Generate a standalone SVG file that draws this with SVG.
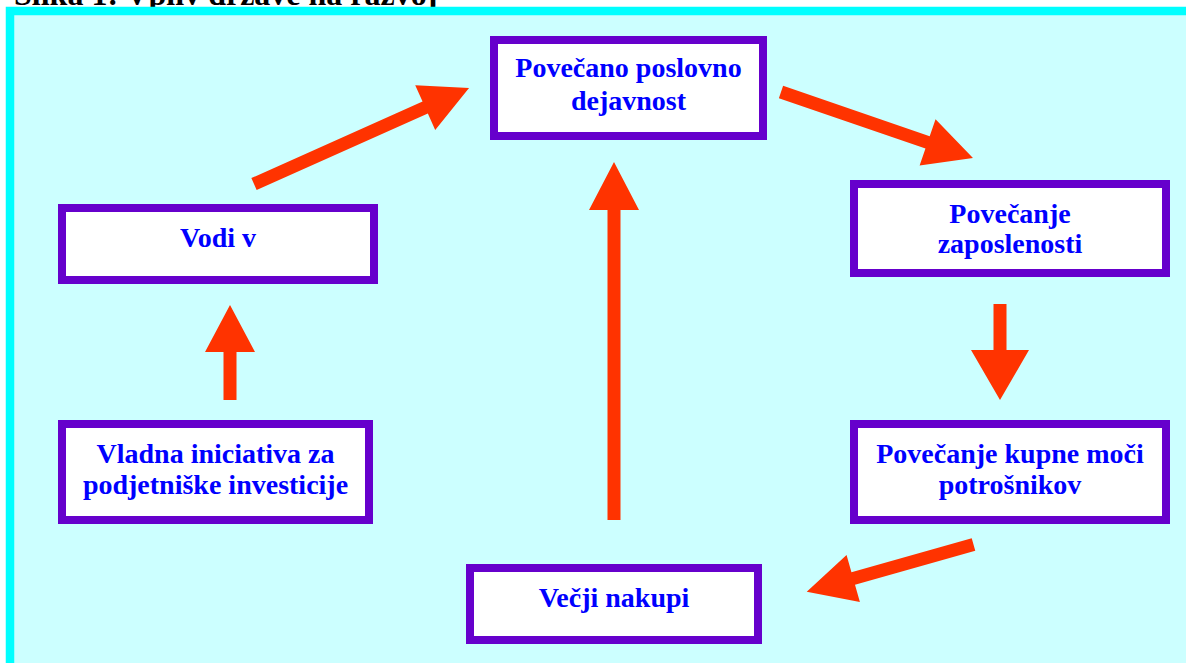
<svg xmlns="http://www.w3.org/2000/svg" width="1186" height="663" viewBox="0 0 1186 663">
  <style>
    .box { fill: #ffffff; stroke: #6600cc; stroke-width: 8; }
    .lbl { font-family: "Liberation Serif", "Times New Roman", serif; font-weight: bold; font-size: 28px; fill: #0000ff; text-anchor: middle; }
    .arrow { fill: #ff3300; }
    .title { font-family: "Liberation Serif", "Times New Roman", serif; font-weight: bold; font-size: 32px; fill: #000000; }
  </style>
  <rect x="0" y="0" width="1186" height="663" fill="#ffffff"/>
  <text class="title" x="14" y="5">Slika 1: Vpliv države na razvoj</text>
  <rect x="10" y="11" width="1200" height="680" fill="#ccffff" stroke="#00ffff" stroke-width="8.5"/>

  <g id="connectors">
    <polygon class="arrow" transform="translate(254,184) rotate(-24.06)" points="0,-6.5 187.5,-6.5 187.5,-24.5 235.5,0 187.5,24.5 187.5,6.5 0,6.5"/>
    <polygon class="arrow" transform="translate(781,92) rotate(18.97)" points="0,-6.5 155,-6.5 155,-24.5 203,0 155,24.5 155,6.5 0,6.5"/>
    <polygon class="arrow" transform="translate(1000,304) rotate(90)" points="0,-6.5 46,-6.5 46,-29 96,0 46,29 46,6.5 0,6.5"/>
    <polygon class="arrow" transform="translate(973.5,544.5) rotate(164.2)" points="0,-6.5 125,-6.5 125,-24.5 173.3,0 125,24.5 125,6.5 0,6.5"/>
    <polygon class="arrow" transform="translate(614,520) rotate(-90)" points="0,-6.5 310,-6.5 310,-25 358,0 310,25 310,6.5 0,6.5"/>
    <polygon class="arrow" transform="translate(230,400) rotate(-90)" points="0,-6.5 48,-6.5 48,-25 95,0 48,25 48,6.5 0,6.5"/>
  </g>

  <g id="node-povecano">
    <rect class="box" x="494" y="40" width="269" height="96"/>
    <text class="lbl" x="628.5" y="77">Povečano poslovno</text>
    <text class="lbl" x="628.5" y="110">dejavnost</text>
  </g>
  <g id="node-vodi">
    <rect class="box" x="62" y="208" width="312" height="72"/>
    <text class="lbl" x="218" y="247">Vodi v</text>
  </g>
  <g id="node-vladna">
    <rect class="box" x="62" y="424" width="307" height="96"/>
    <text class="lbl" x="215.5" y="463">Vladna iniciativa za</text>
    <text class="lbl" x="215.5" y="494">podjetniške investicije</text>
  </g>
  <g id="node-zaposlenost">
    <rect class="box" x="854" y="184" width="312" height="89"/>
    <text class="lbl" x="1010" y="223">Povečanje</text>
    <text class="lbl" x="1010" y="253">zaposlenosti</text>
  </g>
  <g id="node-kupna">
    <rect class="box" x="854" y="424" width="312" height="96"/>
    <text class="lbl" x="1010" y="463">Povečanje kupne moči</text>
    <text class="lbl" x="1010" y="494">potrošnikov</text>
  </g>
  <g id="node-nakupi">
    <rect class="box" x="470" y="568" width="288" height="72"/>
    <text class="lbl" x="614" y="607">Večji nakupi</text>
  </g>
</svg>
